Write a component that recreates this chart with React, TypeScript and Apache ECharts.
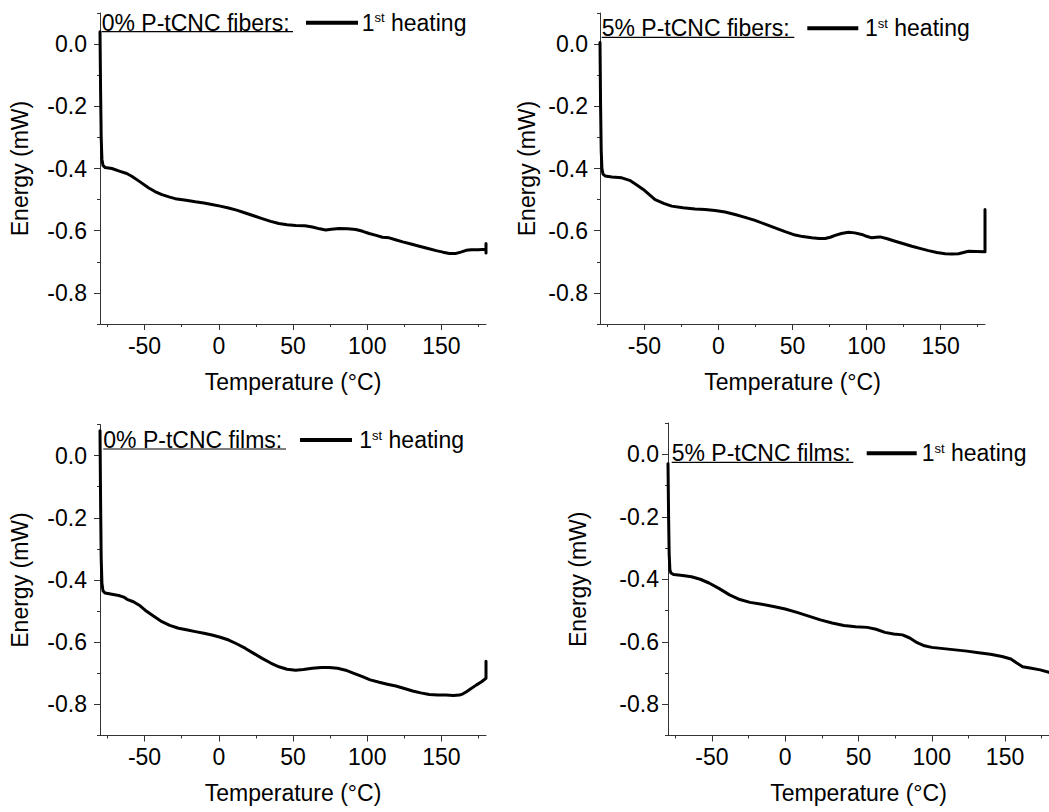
import React, { useEffect, useRef } from 'react';
import * as echarts from 'echarts';

const xMajorTicks = [-50, 0, 50, 100, 150];
const xMinorTicks = [-75, -25, 25, 75, 125, 175];
const yMajorTicks = [0, -0.2, -0.4, -0.6, -0.8];
const yMinorTicks = [0.1, -0.1, -0.3, -0.5, -0.7, -0.9];

const panelTitles = ['0% P-tCNC fibers:', '5% P-tCNC fibers:', '0% P-tCNC films:', '5% P-tCNC films:'];
const xAxisTitle = 'Temperature (°C)';
const yAxisTitle = 'Energy (mW)';

const fibers0: [number, number][] = [
  [-80, 0.04], [-79.6, -0.15], [-79.2, -0.3], [-78.7, -0.37], [-78, -0.39], [-76.5, -0.397], [-72, -0.4],
  [-66.5, -0.409], [-62, -0.416], [-58.6, -0.425], [-53, -0.443], [-47.4, -0.462], [-43, -0.474], [-38.3, -0.484],
  [-33, -0.492], [-29.3, -0.497], [-22, -0.502], [-15.8, -0.507], [-10, -0.511], [-4.7, -0.516], [1, -0.521],
  [6.6, -0.527], [12, -0.534], [17.9, -0.543], [23.5, -0.552], [29.2, -0.561], [35, -0.57], [40.5, -0.577],
  [46, -0.581], [51.8, -0.583], [58, -0.584], [63, -0.588], [68, -0.594], [72, -0.598], [76, -0.595], [81, -0.593],
  [87, -0.594], [92.3, -0.596], [97, -0.602], [101.3, -0.609], [106, -0.615], [110.3, -0.621], [114.8, -0.623],
  [119, -0.629], [123.9, -0.636], [129.5, -0.643], [135.1, -0.65], [141, -0.657], [146.4, -0.664], [151, -0.669],
  [155.4, -0.673], [159.9, -0.673], [163, -0.669], [166.6, -0.663], [170, -0.661], [175, -0.661], [180, -0.66],
  [180, -0.641], [180, -0.672],
];

const fibers5: [number, number][] = [
  [-80, 0.005], [-79.6, -0.2], [-79.2, -0.34], [-78.7, -0.4], [-78, -0.418], [-76.5, -0.424], [-72, -0.427],
  [-65.3, -0.43], [-60, -0.438], [-56.4, -0.449], [-50, -0.47], [-42.8, -0.5], [-37, -0.512], [-31.6, -0.521],
  [-24, -0.526], [-15.8, -0.53], [-9, -0.532], [-2.3, -0.535], [4.5, -0.54], [11.2, -0.548], [18, -0.557],
  [24.7, -0.567], [31.5, -0.579], [38.2, -0.591], [45, -0.603], [51.8, -0.614], [57, -0.619], [63, -0.623],
  [68, -0.625], [72, -0.625], [75.5, -0.621], [78.8, -0.615], [83, -0.609], [87.8, -0.605], [92, -0.607],
  [96.8, -0.612], [100, -0.618], [103.6, -0.623], [106.5, -0.621], [109.2, -0.62], [114, -0.626], [119.3, -0.634],
  [125, -0.642], [130.6, -0.65], [136, -0.657], [141.8, -0.664], [147.5, -0.67], [153.1, -0.674], [157.5, -0.675],
  [162.1, -0.674], [165.5, -0.67], [168.9, -0.666], [174, -0.667], [179.5, -0.668], [180, -0.668], [180, -0.532],
];

const films0: [number, number][] = [
  [-80, 0.08], [-79.6, -0.15], [-79.2, -0.33], [-78.7, -0.41], [-78, -0.435], [-76.5, -0.442], [-72, -0.446],
  [-67.4, -0.45], [-64, -0.455], [-61.8, -0.462], [-57.5, -0.47], [-53, -0.483], [-49.6, -0.497], [-44, -0.516],
  [-38.3, -0.534], [-33, -0.546], [-27.1, -0.555], [-21, -0.561], [-15.8, -0.566], [-10, -0.571], [-4.6, -0.577],
  [1, -0.584], [6.7, -0.593], [12, -0.605], [18, -0.62], [23.5, -0.636], [29.2, -0.652], [35, -0.667],
  [40.5, -0.679], [46, -0.687], [51.8, -0.69], [57, -0.688], [63, -0.684], [69, -0.681], [74.3, -0.681],
  [80, -0.684], [85.5, -0.69], [91, -0.7], [96.8, -0.711], [102, -0.721], [108.1, -0.729], [113.5, -0.735],
  [119.3, -0.741], [125, -0.749], [130.6, -0.757], [136, -0.763], [141.8, -0.768], [147.5, -0.77], [153.1, -0.77],
  [158, -0.771], [162.1, -0.77], [164.5, -0.766], [166.6, -0.76], [170, -0.749], [173.4, -0.738], [177, -0.727],
  [180, -0.716], [180, -0.661],
];

const films5: [number, number][] = [
  [-80, -0.03], [-79.6, -0.2], [-79.2, -0.32], [-78.7, -0.37], [-78, -0.38], [-76, -0.385], [-70, -0.388],
  [-64, -0.392], [-58, -0.4], [-52, -0.412], [-45, -0.43], [-38, -0.45], [-31, -0.465], [-24, -0.474],
  [-16, -0.48], [-8, -0.487], [0, -0.495], [8, -0.506], [16, -0.518], [24, -0.53], [32, -0.54], [40, -0.548],
  [48, -0.552], [56, -0.554], [62, -0.56], [68, -0.57], [74, -0.575], [80, -0.578], [85, -0.588], [90, -0.603],
  [95, -0.613], [100, -0.618], [108, -0.622], [116, -0.626], [124, -0.63], [132, -0.635], [140, -0.64],
  [148, -0.647], [154, -0.655], [158, -0.668], [162, -0.68], [168, -0.685], [174, -0.69], [180, -0.698],
];

const panelData = [fibers0, fibers5, films0, films5];

// layout of each panel (pixels)
const panels = [
  { left: 100, top: 13, width: 386, height: 311, yGap: 69, yMargin: 13, lx: 101.7, ly: 22.7, ulEnd: 293, l1: 306, l2: 358, hx: 361.7 },
  { left: 600, top: 13, width: 385, height: 311, yGap: 62, yMargin: 12, lx: 601.7, ly: 28.3, ulEnd: 794.3, l1: 807.3, l2: 858.3, hx: 865 },
  { left: 100, top: 424.5, width: 386, height: 311, yGap: 69, yMargin: 13, lx: 103.3, ly: 440, ulEnd: 286, l1: 300, l2: 352, hx: 359.3 },
  { left: 668, top: 423, width: 385, height: 312.5, yGap: 79, yMargin: 9, lx: 671.7, ly: 453.3, ulEnd: 853.3, l1: 866.7, l2: 916.7, hx: 921.7 },
];

const FONT = 'Liberation Sans, Arial, sans-serif';
const AXIS_COLOR = '#333';
const FS = 23;

export default function App() {
  const ref = useRef<HTMLDivElement>(null);
  useEffect(() => {
    if (!ref.current) return;
    const chart = echarts.init(ref.current, undefined, { renderer: 'svg' });
    const grid: any[] = [];
    const xAxis: any[] = [];
    const yAxis: any[] = [];
    const series: any[] = [];
    const graphic: any[] = [];
    panels.forEach((p, i) => {
      grid.push({ left: p.left, top: p.top, width: p.width, height: p.height });
      xAxis.push({
        type: 'value', gridIndex: i, min: -80, max: 180,
        name: xAxisTitle, nameLocation: 'middle', nameGap: 46,
        nameTextStyle: { fontSize: FS, fontFamily: FONT, color: '#000' },
        axisLine: { show: true, onZero: false, lineStyle: { color: AXIS_COLOR, width: 1 } },
        axisTick: { show: true, length: 6, customValues: xMajorTicks, lineStyle: { color: AXIS_COLOR } },
        axisLabel: { show: true, customValues: xMajorTicks, fontSize: FS, fontFamily: FONT, color: '#000', margin: 10 },
        splitLine: { show: false },
      });
      xAxis.push({
        type: 'value', gridIndex: i, min: -80, max: 180, position: 'bottom',
        axisLine: { show: false, onZero: false },
        axisTick: { show: true, length: 3, customValues: xMinorTicks, lineStyle: { color: AXIS_COLOR } },
        axisLabel: { show: false },
        splitLine: { show: false },
      });
      yAxis.push({
        type: 'value', gridIndex: i, min: -0.9, max: 0.1,
        name: yAxisTitle, nameLocation: 'middle', nameGap: p.yGap, nameRotate: 90,
        nameTextStyle: { fontSize: FS, fontFamily: FONT, color: '#000' },
        axisLine: { show: true, onZero: false, lineStyle: { color: AXIS_COLOR, width: 1 } },
        axisTick: { show: true, length: 6, customValues: yMajorTicks, lineStyle: { color: AXIS_COLOR } },
        axisLabel: {
          show: true, customValues: yMajorTicks, fontSize: FS, fontFamily: FONT, color: '#000', margin: p.yMargin,
          formatter: (v: number) => (Math.abs(v) < 1e-9 ? '0.0' : v.toFixed(1)),
        },
        splitLine: { show: false },
      });
      yAxis.push({
        type: 'value', gridIndex: i, min: -0.9, max: 0.1, position: 'left',
        axisLine: { show: false, onZero: false },
        axisTick: { show: true, length: 3, customValues: yMinorTicks, lineStyle: { color: AXIS_COLOR } },
        axisLabel: { show: false },
        splitLine: { show: false },
      });
      series.push({
        type: 'line', xAxisIndex: i * 2, yAxisIndex: i * 2, data: panelData[i],
        showSymbol: false, symbol: 'none', smooth: false,
        lineStyle: { color: '#000', width: 3, join: 'round', cap: 'round' },
      });
      graphic.push({
        type: 'text', x: p.lx, y: p.ly,
        style: { text: panelTitles[i], fontSize: FS, fontFamily: FONT, fill: '#000', verticalAlign: 'middle', align: 'left' },
      });
      graphic.push({
        type: 'line', shape: { x1: p.lx, y1: p.ly + 9, x2: p.ulEnd, y2: p.ly + 9 },
        style: { stroke: '#000', lineWidth: 1.2 },
      });
      graphic.push({
        type: 'line', shape: { x1: p.l1, y1: p.ly, x2: p.l2, y2: p.ly },
        style: { stroke: '#000', lineWidth: 4 },
      });
      graphic.push({
        type: 'text', x: p.hx, y: p.ly,
        style: {
          text: '1{sup|st} heating', fontSize: FS, fontFamily: FONT, fill: '#000', verticalAlign: 'middle', align: 'left',
          rich: { sup: { fontSize: 13, fontFamily: FONT, fill: '#000', verticalAlign: 'top' } },
        },
      });
    });
    chart.setOption({
      animation: false,
      backgroundColor: '#fff',
      grid, xAxis, yAxis, series, graphic,
    });
    return () => chart.dispose();
  }, []);
  return <div ref={ref} style={{ position: 'fixed', left: 0, top: 0, width: 1049, height: 812, background: '#fff' }} />;
}
